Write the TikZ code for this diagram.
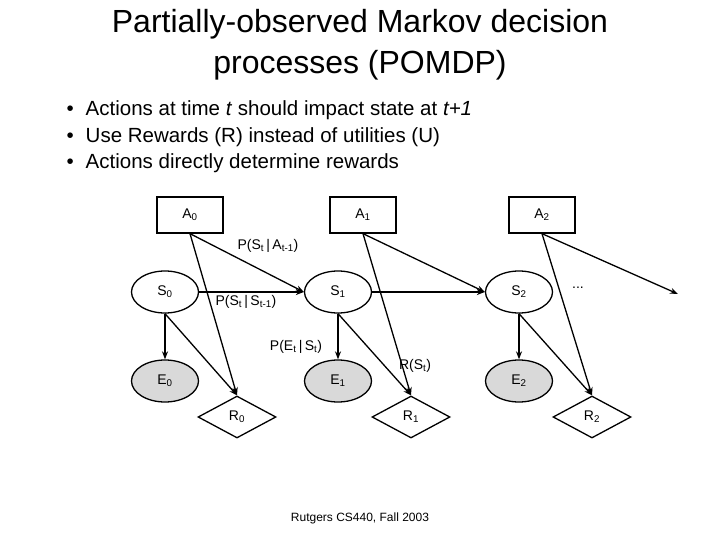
\documentclass[tikz,border=0pt]{standalone}
\usepackage{fontspec}
\setmainfont{Liberation Sans}
\usetikzlibrary{shapes.geometric,arrows.meta}
\newcommand{\sbs}[1]{\textsubscript{#1}}
\begin{document}
\begin{tikzpicture}[x=1pt,y=-1pt,
  box/.style={draw,line width=1.3pt,minimum width=66pt,minimum height=36pt,font=\fontsize{14}{16}\selectfont},
  st/.style={draw,ellipse,line width=1.3pt,minimum width=67pt,minimum height=42pt,inner sep=0pt,font=\fontsize{14}{16}\selectfont},
  ev/.style={st,fill=black!15},
  rw/.style={draw,diamond,aspect=2,line width=1.3pt,minimum width=78pt,minimum height=42pt,inner sep=0pt,font=\fontsize{14}{16}\selectfont},
  arr/.style={line width=1.3pt,-{Stealth[length=8pt,width=6pt]}},
  lab/.style={font=\fontsize{14}{16}\selectfont,inner sep=1pt}]
\path[use as bounding box] (0,0) rectangle (720,540);
\node[font=\fontsize{32}{41}\selectfont,align=center] (title) at (360,45) {Partially-observed Markov decision\\processes (POMDP)};
\node[font=\fontsize{20.5}{26.5}\selectfont,align=left,anchor=west] (bul) at (63,137) {%
\textbullet\hspace{12pt}Actions at time \textit{t} should impact state at \textit{t+1}\\
\textbullet\hspace{12pt}Use Rewards (R) instead of utilities (U)\\
\textbullet\hspace{12pt}Actions directly determine rewards};
\node[box] (A0) at (190,215) {A\sbs{0}};
\node[box] (A1) at (363,215) {A\sbs{1}};
\node[box] (A2) at (542,215) {A\sbs{2}};
\node[st] (S0) at (165,292) {S\sbs{0}};
\node[st] (S1) at (338,292) {S\sbs{1}};
\node[st] (S2) at (519,292) {S\sbs{2}};
\node[ev] (E0) at (165,381) {E\sbs{0}};
\node[ev] (E1) at (338,381) {E\sbs{1}};
\node[ev] (E2) at (519,381) {E\sbs{2}};
\node[rw] (R0) at (237,417) {R\sbs{0}};
\node[rw] (R1) at (411,417) {R\sbs{1}};
\node[rw] (R2) at (592,417) {R\sbs{2}};
\coordinate (end) at (678,294);
\node[lab] (dots) at (578,288) {...};
\foreach \a/\n in {A0/S1,A1/S2}{
  \draw[arr] (\a.south) -- (\n.west);
}
\draw[arr] (A2.south) -- (end);
\foreach \a/\s/\e/\r in {A0/S0/E0/R0,A1/S1/E1/R1,A2/S2/E2/R2}{
  \draw[arr] (\a.south) -- (\r.north);
  \draw[arr] (\s.south) -- (\e.north);
  \draw[arr] (\s.south) -- (\r.north);
}
\draw[arr] (S0.east) -- (S1.west);
\draw[arr] (S1.east) -- (S2.west);
\node[lab] (l1) at (268,246) {P(S\sbs{t}\,|\,A\sbs{t-1})};
\node[lab] (l2) at (246,302) {P(S\sbs{t}\,|\,S\sbs{t-1})};
\node[lab] (l3) at (296,347) {P(E\sbs{t}\,|\,S\sbs{t})};
\node[lab] (l4) at (415,366) {R(S\sbs{t})};
\node[font=\fontsize{12}{14}\selectfont] (foot) at (360,518) {Rutgers CS440, Fall 2003};
\end{tikzpicture}
\end{document}
